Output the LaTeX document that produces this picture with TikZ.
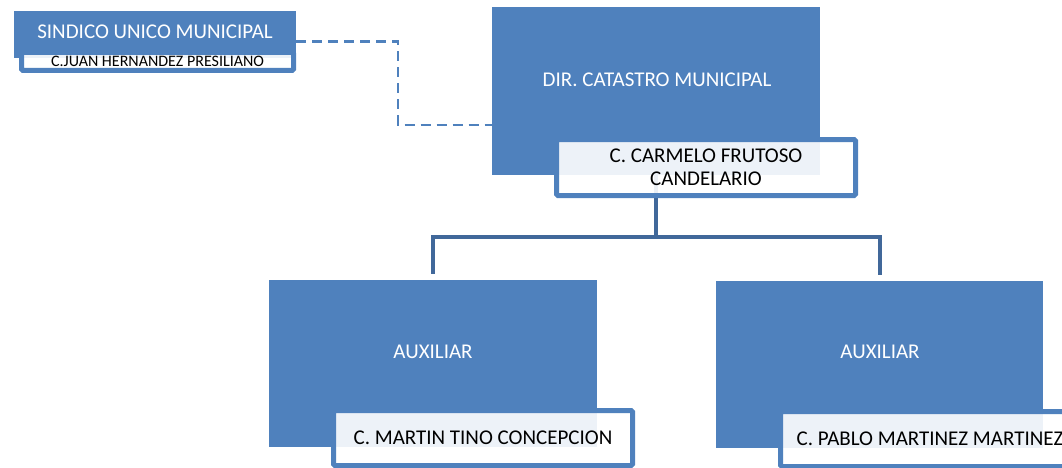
\documentclass[tikz,border=0pt]{standalone}
\usepackage{fontspec}
\setmainfont{Carlito}
\usetikzlibrary{positioning}
\definecolor{ofblue}{RGB}{79,129,189}
\definecolor{linkblue}{RGB}{65,104,154}

\begin{document}
\begin{tikzpicture}[
        x=1pt, y=-1pt,
        unitbox/.style={rectangle, fill=ofblue, draw=none, inner sep=0pt, outer sep=0pt, anchor=north west},
        unittext/.style={text=white, font=\fontsize{21}{25}\selectfont, inner sep=0pt},
        namebox/.style={rectangle, draw=ofblue, line width=5pt, fill=white, fill opacity=0.9, text opacity=1,
                        text=black, rounded corners=1.5pt, anchor=north west, align=center, inner sep=0pt,
                        font=\fontsize{21}{23}\selectfont},
        link/.style={draw=linkblue, line width=4pt},
        dashlink/.style={draw=ofblue, line width=2.5pt, dash pattern=on 10pt off 6pt}
        ]
        \useasboundingbox (0,0) rectangle (1062,468);

        % Define the nodes
        \node[unitbox, minimum width=282pt, minimum height=47pt] (sindico) at (14,11) {};
        \node[unittext] (sindicotitle) at (155,32) {SINDICO UNICO MUNICIPAL};
        \node[unitbox, minimum width=328pt, minimum height=168pt] (dir) at (492,7) {};
        \node[unittext] (dirtitle) at (657,80) {DIR. CATASTRO MUNICIPAL};
        \node[unitbox, minimum width=328pt, minimum height=167pt] (aux1) at (269,280) {};
        \node[unittext] (aux1title) at (433,352) {AUXILIAR};
        \node[unitbox, minimum width=327pt, minimum height=167pt] (aux2) at (716,281) {};
        \node[unittext] (aux2title) at (880,352) {AUXILIAR};

        % Draw the lines
        \coordinate (bend) at (398,125);
        \coordinate (bus) at (656,237);
        \draw[dashlink] ([yshift=-7pt]sindico.east) -| (bend) -- (dir.west |- bend);
        \draw[link] (dir.south) -- (dir.south |- bus) -| ([yshift=6pt]aux1.north);
        \draw[link] (dir.south |- bus) -| ([yshift=6pt]aux2.north);

        % Names
        \node[namebox, minimum width=272pt, minimum height=18pt, font=\fontsize{16}{18}\selectfont] (sindiconame) at (19,50) {C.JUAN HERNANDEZ PRESILIANO};
        \node[namebox, minimum width=299pt, minimum height=56pt] (dirname) at (554,137) {C. CARMELO FRUTOSO\\CANDELARIO};
        \node[namebox, minimum width=299pt, minimum height=55pt] (aux1name) at (331,408) {C. MARTIN TINO CONCEPCION};
        \node[namebox, minimum width=299pt, minimum height=55pt] (aux2name) at (778,409) {C. PABLO MARTINEZ MARTINEZ};
    \end{tikzpicture}
\end{document}
